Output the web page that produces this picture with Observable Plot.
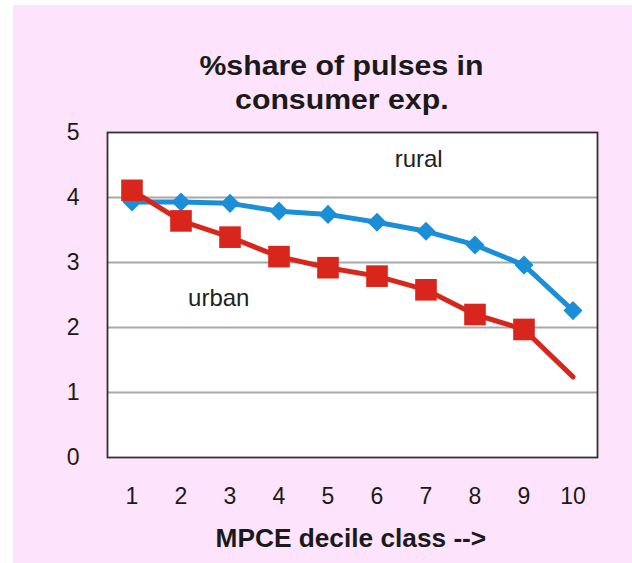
<!DOCTYPE html>
<html>
<head>
<meta charset="utf-8">
<script src="https://cdn.jsdelivr.net/npm/d3@7"></script>
<script src="https://cdn.jsdelivr.net/npm/@observablehq/plot@0.6"></script>
<style>
  html, body { margin: 0; padding: 0; background: #ffffff; }
  body { width: 632px; height: 563px; position: relative; overflow: hidden; font-family: "Liberation Sans", Arial, sans-serif; }
  #panel { position: absolute; left: 13px; top: 5px; width: 619px; height: 558px; background: #fde3fb; }
  #title { position: absolute; left: 0; width: 619px; top: 44px; text-align: center; font-weight: bold; font-size: 28px; line-height: 34px; color: #1a1a1a; padding-left: 38px; box-sizing: border-box; }
  #title span { display: inline-block; transform: scaleX(1.08); }
  #chart { position: absolute; left: 0; top: 110px; }
  #xlabel { position: absolute; left: 0; width: 619px; top: 519px; text-align: center; font-weight: bold; font-size: 25px; color: #1a1a1a; padding-left: 56px; box-sizing: border-box; }
  #xlabel span { display: inline-block; transform: scaleX(1.05); }
</style>
</head>
<body>
<div id="panel">
  <div id="title"><span>%share of pulses in</span><br><span>consumer exp.</span></div>
  <div id="chart"></div>
  <div id="xlabel"><span>MPCE decile class --&gt;</span></div>
</div>
<script>
const deciles = [1, 2, 3, 4, 5, 6, 7, 8, 9, 10];
const rural = [3.93, 3.93, 3.91, 3.79, 3.74, 3.62, 3.48, 3.27, 2.96, 2.26];
const urban = [4.11, 3.64, 3.39, 3.09, 2.92, 2.79, 2.58, 2.20, 1.97, 1.24];
const urbanMarked = [true, true, true, true, true, true, true, true, true, false];
const yTicks = [0, 1, 2, 3, 4, 5];
const seriesLabels = [
  {name: "rural", x: 6.85, y: 4.58},
  {name: "urban", x: 2.77, y: 2.45}
];

const ruralData = deciles.map((d, i) => ({decile: d, value: rural[i]}));
const urbanData = deciles.map((d, i) => ({decile: d, value: urban[i], marked: urbanMarked[i]}));

const blue = "#1a8fd8";
const red = "#d8261d";

const chart = Plot.plot({
  width: 619,
  height: 400,
  marginLeft: 94,
  marginRight: 35,
  marginTop: 17,
  marginBottom: 58,
  style: {background: "transparent", fontFamily: "'Liberation Sans', Arial, sans-serif", fontSize: "23px", color: "#1a1a1a"},
  x: {domain: [0.5, 10.5], ticks: deciles, tickFormat: d => String(d), tickSize: 0, tickPadding: 30, label: null},
  y: {domain: [0, 5], ticks: yTicks, tickFormat: d => String(d), tickSize: 0, tickPadding: 28, label: null},
  marks: [
    Plot.frame({fill: "#ffffff"}),
    Plot.gridY(yTicks.filter(t => t > 0 && t < 5), {stroke: "#a8a8a8", strokeOpacity: 1, strokeWidth: 2}),
    Plot.line(ruralData, {x: "decile", y: "value", stroke: blue, strokeWidth: 5}),
    Plot.dot(ruralData, {x: "decile", y: "value", symbol: "diamond2", r: 8.6, fill: blue, stroke: "none"}),
    Plot.line(urbanData, {x: "decile", y: "value", stroke: red, strokeWidth: 5}),
    Plot.dot(urbanData.filter(d => d.marked), {x: "decile", y: "value", symbol: "square", r: 12.2, fill: red, stroke: "none"}),
    Plot.text(seriesLabels, {x: "x", y: "y", text: "name", fontSize: 24, fill: "#222"}),
    Plot.frame({stroke: "#333333", strokeWidth: 1.8})
  ]
});
document.getElementById("chart").appendChild(chart);
</script>
</body>
</html>
